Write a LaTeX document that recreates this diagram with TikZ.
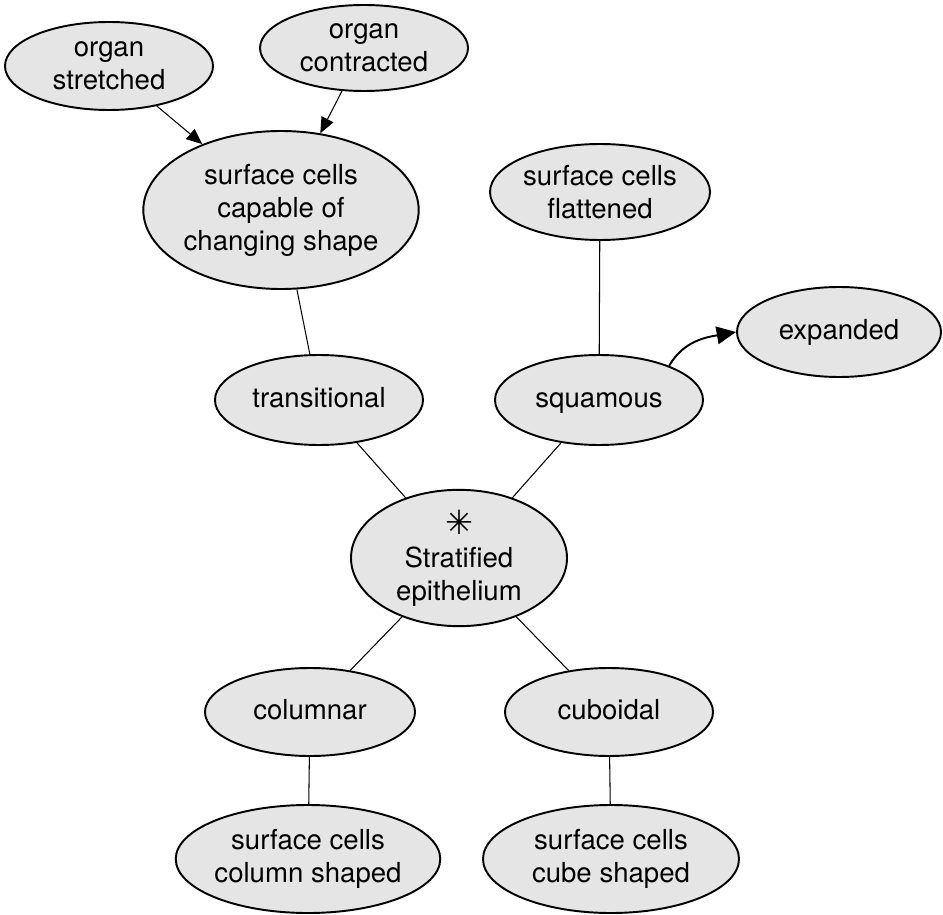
\documentclass[tikz,border=0pt]{standalone}
\usepackage{fontspec}
\setmainfont{TeX Gyre Heros}
\newfontfamily\symfont{DejaVu Sans}
\usetikzlibrary{shapes.geometric, arrows.meta, positioning}
\definecolor{CellGray}{RGB}{229,229,229}
\tikzset{
  cell/.style={ellipse, draw, fill=CellGray, line width=1.1pt, inner sep=0pt,
    align=center, font=\fontsize{15.7}{18.8}\selectfont},
  oval/.style 2 args={minimum width=#1*0.02cm, minimum height=#2*0.02cm},
  link/.style={line width=0.6pt},
  push/.style={line width=0.6pt, -{Triangle[length=9pt, width=7.5pt]}},
  bigpush/.style={line width=1.1pt, -{Triangle[length=11pt, width=10pt]}}
}

\begin{document}
\begin{tikzpicture}[x=0.02cm, y=0.02cm]
  \useasboundingbox (0,0) rectangle (943,-915);

  % top row
  \node[cell, oval={208}{88}] (stretched) at (109,-66) {organ\\stretched};
  \node[cell, oval={208}{86}] (contracted) at (364,-48) {organ\\contracted};
  \node[cell, oval={264}{158}] (capable) at (281,-210) {surface cells\\capable of\\changing shape};
  \node[cell, oval={220}{96}] (flattened) at (600,-192) {surface cells\\flattened};
  \node[cell, oval={204}{90}] (expanded) at (839,-332) {\vphantom{lg}expanded};

  % middle
  \node[cell, oval={208}{90}] (trans) at (319,-400) {\vphantom{lg}transitional};
  \node[cell, oval={208}{90}] (squamous) at (599,-400) {\vphantom{lg}squamous};
  \node[cell, oval={216}{134}] (strat) at (459,-558) {{\symfont\fontsize{19}{18.8}\selectfont ✳}\\Stratified\\epithelium};

  % bottom rows
  \node[cell, oval={210}{88}] (columnar) at (310,-712) {\vphantom{lg}columnar};
  \node[cell, oval={208}{88}] (cuboidal) at (609,-712) {\vphantom{lg}cuboidal};
  \node[cell, oval={258}{108}] (colshape) at (308,-859) {surface cells\\column shaped};
  \node[cell, oval={256}{108}] (cubeshape) at (611,-859) {surface cells\\cube shaped};

  % connectors
  \draw[push] (stretched) -- (capable);
  \draw[push] (contracted) -- (capable);
  \draw[link] (capable) -- (trans);
  \draw[link] (flattened) -- (squamous);
  \draw[link] (trans) -- (strat);
  \draw[link] (squamous) -- (strat);
  \draw[link] (strat) -- (columnar);
  \draw[link] (strat) -- (cuboidal);
  \draw[link] (columnar) -- (colshape);
  \draw[link] (cuboidal) -- (cubeshape);
  \draw[bigpush] (squamous.26) to[out=60, in=190] (expanded.west);
\end{tikzpicture}
\end{document}
